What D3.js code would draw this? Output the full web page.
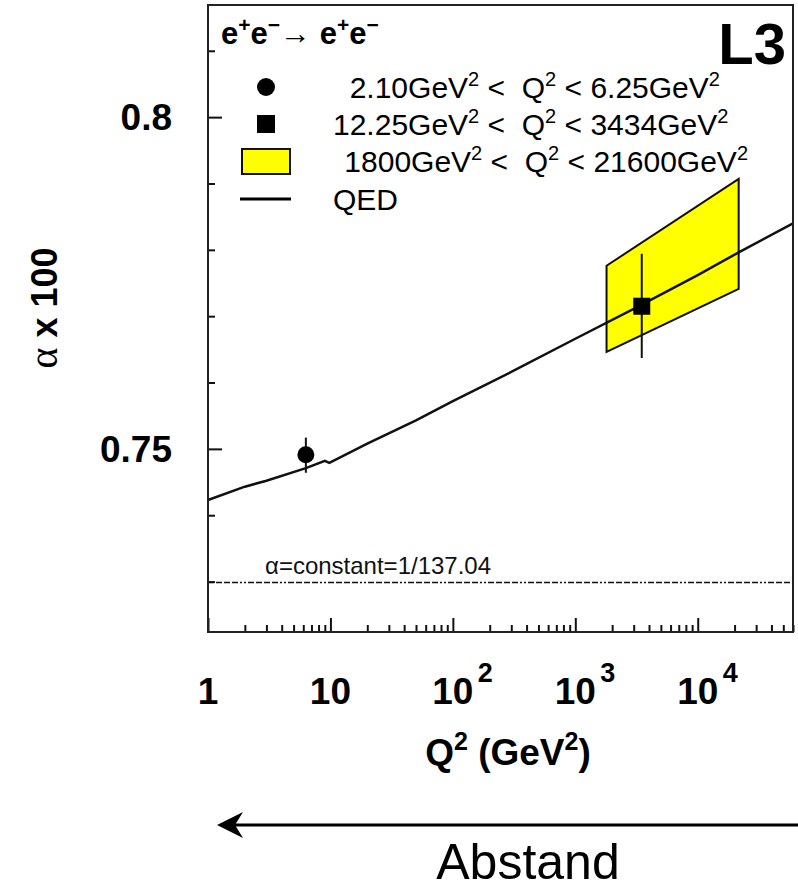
<!DOCTYPE html>
<html>
<head>
<meta charset="utf-8">
<script src="https://cdn.jsdelivr.net/npm/d3@7"></script>
<style>
  html, body { margin: 0; padding: 0; background: #fff; }
  svg { display: block; font-family: "Liberation Sans", Arial, sans-serif; }
</style>
</head>
<body>
<div id="chart"></div>
<script>
// QED running alpha (x100)
const qedQ2 = [1, 2, 3, 6.3, 9, 9.8, 20, 50, 100, 300, 1000, 3000, 10000, 22000, 60000];
const qedAlpha = [0.7423, 0.7443, 0.7452, 0.7471, 0.7482, 0.7479, 0.7508, 0.7543, 0.7572, 0.7616, 0.7666, 0.7711, 0.7762, 0.7797, 0.7840];

// measured points: circle (low Q2), square (mid Q2)
const pointQ2 = [6.3, 3490];
const pointAlpha = [0.7491, 0.7715];
const pointErrLo = [0.7464, 0.7637];
const pointErrHi = [0.7517, 0.7794];
const pointShape = ['circle', 'square'];

// high Q2 band (yellow)
const bandQ2 = [1800, 21600];
const bandLower = [0.7646, 0.7741];
const bandUpper = [0.7776, 0.7907];

const alphaConst = 100 / 137.04;

const xMajor = [1, 10, 100, 1000, 10000];
const xLabelBase = ['1', '10', '10', '10', '10'];
const xLabelExp = ['', '', '2', '3', '4'];
const yMajor = [0.75, 0.8];
const yMinor = [0.73, 0.74, 0.76, 0.77, 0.78, 0.79, 0.81];
const yLabels = ['0.75', '0.8'];

const legendLabels = [
  [['  2.10GeV'], ['2', 1], [' <  Q'], ['2', 1], [' < 6.25GeV'], ['2', 1]],
  [['12.25GeV'], ['2', 1], [' <  Q'], ['2', 1], [' < 3434GeV'], ['2', 1]],
  [[' 1800GeV'], ['2', 1], [' <  Q'], ['2', 1], [' < 21600GeV'], ['2', 1]],
  [['QED']]
];

const W = 798, H = 890;
const frame = { left: 208, right: 793, top: 5, bottom: 632 };

const svg = d3.select('#chart').append('svg')
  .attr('width', W).attr('height', H);

const x = d3.scaleLog().domain([1, 60000]).range([frame.left, frame.right]);
const y = d3.scaleLinear().domain([0.7224, 0.8169]).range([frame.bottom, frame.top]);

// helper: text with superscripts
function richText(g, parts, size, sup) {
  const t = g.append('text').attr('font-size', size).style('white-space', 'pre');
  let raised = false;
  parts.forEach(([s, isSup]) => {
    const ts = t.append('tspan').text(s);
    if (isSup) {
      ts.attr('font-size', sup.size).attr('dy', raised ? 0 : -sup.raise);
      raised = true;
    } else {
      ts.attr('dy', raised ? sup.raise : 0);
      raised = false;
    }
  });
  return t;
}

// ticks (inside the frame)
const axisG = svg.append('g');
const xMinorVals = [];
for (let d = 1; d < 60000; d *= 10) {
  for (let k = 2; k <= 9; k++) if (d * k <= 60000) xMinorVals.push(d * k);
}
axisG.append('g').attr('transform', `translate(0,${frame.bottom})`)
  .call(d3.axisBottom(x).tickValues(xMajor).tickSize(-14).tickFormat(''));
axisG.append('g').attr('transform', `translate(0,${frame.bottom})`)
  .call(d3.axisBottom(x).tickValues(xMinorVals).tickSize(-7).tickFormat(''));
axisG.append('g').attr('transform', `translate(${frame.left},0)`)
  .call(d3.axisLeft(y).tickValues(yMajor).tickSize(-14).tickFormat(''));
axisG.append('g').attr('transform', `translate(${frame.left},0)`)
  .call(d3.axisLeft(y).tickValues(yMinor).tickSize(-7).tickFormat(''));
axisG.selectAll('.domain').remove();
axisG.selectAll('.tick line').attr('stroke', '#111').attr('stroke-width', 2);

// alpha = constant line
svg.append('line')
  .attr('x1', frame.left).attr('x2', frame.right)
  .attr('y1', y(alphaConst) - 1).attr('y2', y(alphaConst) - 1)
  .attr('stroke', '#111').attr('stroke-width', 1.6)
  .attr('stroke-dasharray', '6 2 6 2 6 2 6 2 2 2 2 2');
svg.append('text')
  .attr('x', 265).attr('y', y(alphaConst) - 9)
  .attr('font-size', 24).attr('fill', '#111')
  .text('α=constant=1/137.04');

// yellow band
const bandPts = [
  [x(bandQ2[0]), y(bandLower[0])], [x(bandQ2[0]), y(bandUpper[0])],
  [x(bandQ2[1]), y(bandUpper[1])], [x(bandQ2[1]), y(bandLower[1])]
];
svg.append('polygon')
  .attr('points', bandPts.map(p => p.join(',')).join(' '))
  .attr('fill', '#ffff00').attr('stroke', '#111').attr('stroke-width', 2);

// QED curve
const qed = qedQ2.map((q, i) => ({ q, a: qedAlpha[i] }));
svg.append('path').datum(qed)
  .attr('fill', 'none').attr('stroke', '#111').attr('stroke-width', 2.5)
  .attr('d', d3.line().x(d => x(d.q)).y(d => y(d.a)));

// data points
pointQ2.forEach((q, i) => {
  const cx = x(q), cy = y(pointAlpha[i]);
  svg.append('line')
    .attr('x1', cx).attr('x2', cx)
    .attr('y1', y(pointErrLo[i])).attr('y2', y(pointErrHi[i]))
    .attr('stroke', '#111').attr('stroke-width', 2);
  if (pointShape[i] === 'circle') {
    svg.append('circle').attr('cx', cx).attr('cy', cy).attr('r', 8.5).attr('fill', '#000');
  } else {
    svg.append('rect').attr('x', cx - 8.5).attr('y', cy - 8.5)
      .attr('width', 17).attr('height', 17).attr('fill', '#000');
  }
});

// frame
svg.append('rect')
  .attr('x', frame.left).attr('y', frame.top)
  .attr('width', frame.right - frame.left).attr('height', frame.bottom - frame.top)
  .attr('fill', 'none').attr('stroke', '#222').attr('stroke-width', 2);

// legend
const lg = svg.append('g').attr('fill', '#000');
const header = richText(lg, [['e'], ['+', 1], ['e'], ['−', 1], ['→ e'], ['+', 1], ['e'], ['−', 1]],
  31, { size: 21, raise: 12 });
header.attr('x', 221).attr('y', 44).attr('font-weight', 'bold');

const rowY = [87, 124, 161, 199];
lg.append('circle').attr('cx', 266).attr('cy', rowY[0]).attr('r', 9).attr('fill', '#000');
lg.append('rect').attr('x', 257).attr('y', rowY[1] - 9).attr('width', 18).attr('height', 18).attr('fill', '#000');
lg.append('rect').attr('x', 242).attr('y', rowY[2] - 12).attr('width', 48).attr('height', 25)
  .attr('fill', '#ffff00').attr('stroke', '#111').attr('stroke-width', 2);
lg.append('line').attr('x1', 240).attr('x2', 291).attr('y1', rowY[3]).attr('y2', rowY[3])
  .attr('stroke', '#000').attr('stroke-width', 3);
const rowX = [333, 333, 336, 333];
legendLabels.forEach((parts, i) => {
  richText(lg, parts, 30, { size: 20, raise: 12 })
    .attr('x', rowX[i]).attr('y', rowY[i] + 11);
});

lg.append('text').attr('x', 786).attr('y', 64).attr('text-anchor', 'end')
  .attr('font-size', 58).attr('font-weight', 'bold').text('L3');

// tick labels
const tl = svg.append('g').attr('font-weight', 'bold').attr('fill', '#000');
xMajor.forEach((v, i) => {
  tl.append('text').attr('x', x(v)).attr('y', 704).attr('text-anchor', 'middle')
    .attr('font-size', 37).text(xLabelBase[i]);
  if (xLabelExp[i]) {
    tl.append('text').attr('x', x(v) + 25).attr('y', 682)
      .attr('font-size', 27).text(xLabelExp[i]);
  }
});
yMajor.forEach((v, i) => {
  tl.append('text').attr('x', 172).attr('y', y(v) + 13).attr('text-anchor', 'end')
    .attr('font-size', 37).text(yLabels[i]);
});

// axis titles
const xt = richText(svg, [['Q'], ['2', 1], [' (GeV'], ['2', 1], [')']], 37, { size: 25, raise: 15 });
xt.attr('x', 508).attr('y', 765).attr('text-anchor', 'middle').attr('font-weight', 'bold');

const yt = svg.append('text')
  .attr('transform', 'translate(57,308) rotate(-90)')
  .attr('text-anchor', 'middle').attr('font-size', 36);
yt.append('tspan').attr('font-family', '"Liberation Serif", serif').attr('font-size', 40).text('α');
yt.append('tspan').attr('font-weight', 'bold').text(' x 100');

// direction arrow
svg.append('line').attr('x1', 230).attr('x2', 798).attr('y1', 825).attr('y2', 825)
  .attr('stroke', '#000').attr('stroke-width', 3);
svg.append('path')
  .attr('d', 'M217,825 L243,812 L235,825 L243,838 Z')
  .attr('fill', '#000');
svg.append('text').attr('x', 528).attr('y', 879).attr('text-anchor', 'middle')
  .attr('font-size', 50).text('Abstand');
</script>
</body>
</html>
